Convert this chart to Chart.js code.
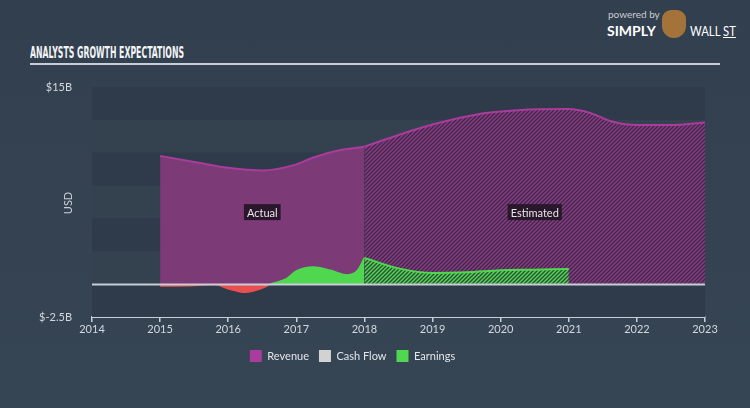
<!DOCTYPE html>
<html>
<head>
    <meta charset="UTF-8">
    <title>Analysts Growth Expectations</title>
    <script src="https://cdn.jsdelivr.net/npm/chart.js"></script>
    <style>
        html, body { margin: 0; padding: 0; }
        body {
            width: 750px; height: 408px; overflow: hidden; position: relative;
            background: linear-gradient(180deg, #323f4e 0%, #364554 100%);
            font-family: Lato, "DejaVu Sans", sans-serif;
        }
        #chartBox { position: absolute; left: 0; top: 0; width: 750px; height: 408px; }
        #title {
            position: absolute; left: 30px; top: 43px; color: #f2f4f6;
            font-family: "DejaVu Sans Condensed", "DejaVu Sans", sans-serif; font-weight: bold;
            font-size: 16px; white-space: nowrap; transform-origin: 0 0;
        }
        #rule { position: absolute; left: 30px; top: 63px; width: 690px; height: 2px; background: #c6ced6; }
        #logo { position: absolute; left: 607px; top: 8px; width: 140px; height: 32px; color: #fff; }
        #logo span { position: absolute; white-space: nowrap; transform-origin: 0 0; }
        #logo .pw { font-size: 10px; color: #c8cdd2; left: 1px; top: 0; }
        #logo .s { font-size: 14px; font-weight: bold; left: 0; top: 14px; }
        #logo .w { font-size: 14px; left: 83px; top: 14px; }
        #logo .bull { position: absolute; left: 55px; top: 2px; width: 24px; height: 28px; border-radius: 9px 9px 12px 12px; background: #a3733a; }
    </style>
</head>
<body>
    <div id="logo">
        <span class="pw">powered by</span>
        <span class="s" id="lgS">SIMPLY</span>
        <div class="bull"></div>
        <span class="w" id="lgW">WALL <u>ST</u></span>
    </div>
    <div id="title">ANALYSTS GROWTH EXPECTATIONS</div>
    <div id="rule"></div>
    <div id="chartBox"><canvas id="growthChart" width="750" height="408"></canvas></div>
    <script>
        // values in $ billions
        var revActualYears = [2015, 2015.5, 2016, 2016.5, 2017, 2017.25, 2017.65, 2018];
        var revActual      = [9.76, 9.3, 8.85, 8.64, 9.11, 9.64, 10.2, 10.46];
        var revEstYears = [2018, 2018.5, 2019, 2019.75, 2020.25, 2021, 2021.3, 2021.65, 2022, 2022.5, 2023];
        var revEst      = [10.46, 11.35, 12.14, 13.0, 13.24, 13.32, 13.05, 12.35, 12.1, 12.1, 12.3];

        var earnActualYears = [2015, 2015.5, 2015.8, 2016, 2016.25, 2016.5, 2016.62, 2016.85, 2017, 2017.25, 2017.5, 2017.75, 2017.9, 2018];
        var earnActual      = [-0.15, -0.1, -0.02, -0.35, -0.62, -0.3, 0, 0.4, 1.0, 1.3, 1.05, 0.7, 1.05, 2.0];
        var earnEstYears = [2018, 2018.5, 2019, 2019.5, 2020, 2020.5, 2021];
        var earnEst      = [2.0, 1.2, 0.85, 0.9, 1.05, 1.1, 1.15];

        var yearTicks = [2014, 2015, 2016, 2017, 2018, 2019, 2020, 2021, 2022, 2023];
        var legendNames = ['Revenue', 'Cash Flow', 'Earnings'];
        var legendColors = ['#a93c9c', '#d2d2d2', '#4fd84f'];

        function pts(xs, ys) {
            return xs.map(function (x, i) { return { x: x, y: ys[i] }; });
        }

        function hatch(base, line) {
            var c = document.createElement('canvas');
            c.width = 4; c.height = 4;
            var g = c.getContext('2d');
            g.fillStyle = base;
            g.fillRect(0, 0, 4, 4);
            g.strokeStyle = line;
            g.lineWidth = 1.3;
            g.beginPath();
            g.moveTo(-1, 5); g.lineTo(5, -1);
            g.moveTo(-3, 3); g.lineTo(3, -3);
            g.moveTo(1, 7); g.lineTo(7, 1);
            g.stroke();
            return g.createPattern(c, 'repeat');
        }

        var ctx = document.getElementById('growthChart').getContext('2d');
        var revHatch = hatch('#8c3a86', '#3b2a45');
        var earnHatch = hatch('#4fd84f', '#2f4a3c');

        var bandsPlugin = {
            id: 'bands',
            beforeDatasetsDraw: function (chart) {
                var y = chart.scales.y, a = chart.chartArea, c = chart.ctx;
                c.save();
                var vals = [15, 12.5, 10, 7.5, 5, 2.5, 0];
                for (var i = 0; i < vals.length - 1; i++) {
                    c.fillStyle = (i % 2 === 0) ? '#2f3b4a' : '#344250';
                    var t = y.getPixelForValue(vals[i]), b = y.getPixelForValue(vals[i + 1]);
                    c.fillRect(a.left, t, a.right - a.left, b - t);
                }
                c.fillStyle = '#2f3b4a';
                var z = y.getPixelForValue(0);
                c.fillRect(a.left, z, a.right - a.left, a.bottom - z);
                c.restore();
            }
        };

        var notesPlugin = {
            id: 'notes',
            afterDatasetsDraw: function (chart) {
                var x = chart.scales.x, y = chart.scales.y, c = chart.ctx;
                // zero line
                c.save();
                c.strokeStyle = '#c6ced6';
                c.lineWidth = 2;
                var z = Math.round(y.getPixelForValue(0)) + 0.5;
                c.beginPath(); c.moveTo(chart.chartArea.left, z); c.lineTo(chart.chartArea.right, z); c.stroke();

                c.font = '11px Lato, "DejaVu Sans", sans-serif';
                c.textAlign = 'center';
                c.textBaseline = 'middle';
                [['Actual', 2016.5], ['Estimated', 2020.5]].forEach(function (n) {
                    var px = x.getPixelForValue(n[1]), py = y.getPixelForValue(5.48);
                    var w = c.measureText(n[0]).width + 6;
                    c.fillStyle = 'rgba(34, 20, 36, 0.9)';
                    c.fillRect(px - w / 2, py - 8, w, 16);
                    c.fillStyle = '#e6e6e6';
                    c.fillText(n[0], px, py + 1);
                });

                c.translate(68, 203);
                c.rotate(-Math.PI / 2);
                c.fillStyle = '#c8d0d8';
                c.fillText('USD', 0, 0);
                c.restore();
            }
        };

        var earnSeg = {
            borderColor: function (s) {
                return (s.p0.parsed.y < 0 || s.p1.parsed.y < 0) ? '#ea4f4f' : '#4fd84f';
            }
        };

        var chart = new Chart(ctx, {
            type: 'line',
            data: {
                datasets: [
                    {
                        label: 'Earnings',
                        data: pts(earnActualYears, earnActual),
                        borderColor: '#4fd84f',
                        backgroundColor: '#4fd84f',
                        segment: earnSeg,
                        borderWidth: 1.5,
                        fill: { target: 'origin', above: '#4fd84f', below: '#ea4f4f' },
                        order: 0
                    },
                    {
                        label: 'Earnings est',
                        data: pts(earnEstYears, earnEst),
                        borderColor: '#4fd84f',
                        backgroundColor: earnHatch,
                        borderWidth: 2,
                        fill: 'origin',
                        order: 0
                    },
                    {
                        label: 'Cash Flow',
                        data: [],
                        borderColor: '#d2d2d2',
                        backgroundColor: '#d2d2d2',
                        order: 1
                    },
                    {
                        label: 'Revenue',
                        data: pts(revActualYears, revActual),
                        borderColor: '#a93c9c',
                        backgroundColor: '#7c3a77',
                        borderWidth: 2,
                        fill: 'origin',
                        order: 2
                    },
                    {
                        label: 'Revenue est',
                        data: pts(revEstYears, revEst),
                        borderColor: '#a93c9c',
                        backgroundColor: revHatch,
                        borderWidth: 2,
                        fill: 'origin',
                        order: 2
                    }
                ]
            },
            options: {
                responsive: false,
                animation: false,
                events: [],
                elements: {
                    point: { radius: 0 },
                    line: { cubicInterpolationMode: 'monotone' }
                },
                layout: { padding: { top: 87, right: 45, left: 0, bottom: 36 } },
                scales: {
                    x: {
                        type: 'linear',
                        min: 2014,
                        max: 2023,
                        afterBuildTicks: function (s) {
                            s.ticks = yearTicks.map(function (v) { return { value: v }; });
                        },
                        afterFit: function (s) { s.height = 23; },
                        border: { display: true, color: '#c6ced6', width: 2 },
                        grid: { drawOnChartArea: false, color: '#c6ced6', tickLength: 5, lineWidth: 1.5 },
                        ticks: {
                            color: '#d2d8de',
                            padding: 1,
                            maxRotation: 0,
                            font: { family: 'Lato, "DejaVu Sans", sans-serif', size: 11 },
                            callback: function (v) { return String(v); }
                        }
                    },
                    y: {
                        min: -2.5,
                        max: 15,
                        afterFit: function (s) { s.width = 92; },
                        border: { display: false },
                        grid: { display: false },
                        ticks: {
                            stepSize: 2.5,
                            color: '#d2d8de',
                            padding: 12,
                            font: { family: 'Lato, "DejaVu Sans", sans-serif', size: 11 },
                            callback: function (v) {
                                if (v === 15) return '$15B';
                                if (v === -2.5) return '$-2.5B';
                                return '';
                            }
                        }
                    }
                },
                plugins: {
                    tooltip: { enabled: false },
                    legend: {
                        position: 'bottom',
                        labels: {
                            color: '#e2e6ea',
                            boxWidth: 12,
                            boxHeight: 12,
                            padding: 10,
                            font: { family: 'Lato, "DejaVu Sans", sans-serif', size: 11 },
                            generateLabels: function () {
                                return legendNames.map(function (n, i) {
                                    return {
                                        text: n,
                                        fillStyle: legendColors[i],
                                        strokeStyle: legendColors[i],
                                        lineWidth: 0,
                                        fontColor: '#e2e6ea',
                                        hidden: false,
                                        datasetIndex: i
                                    };
                                });
                            }
                        }
                    }
                }
            },
            plugins: [bandsPlugin, notesPlugin]
        });

        // squeeze condensed texts to their widths in the reference
        function fit(id, w) {
            var el = document.getElementById(id);
            el.style.transform = 'scaleX(' + (w / el.offsetWidth) + ')';
        }
        fit('title', 154);
        fit('lgS', 49);
        fit('lgW', 46);
    </script>
</body>
</html>
